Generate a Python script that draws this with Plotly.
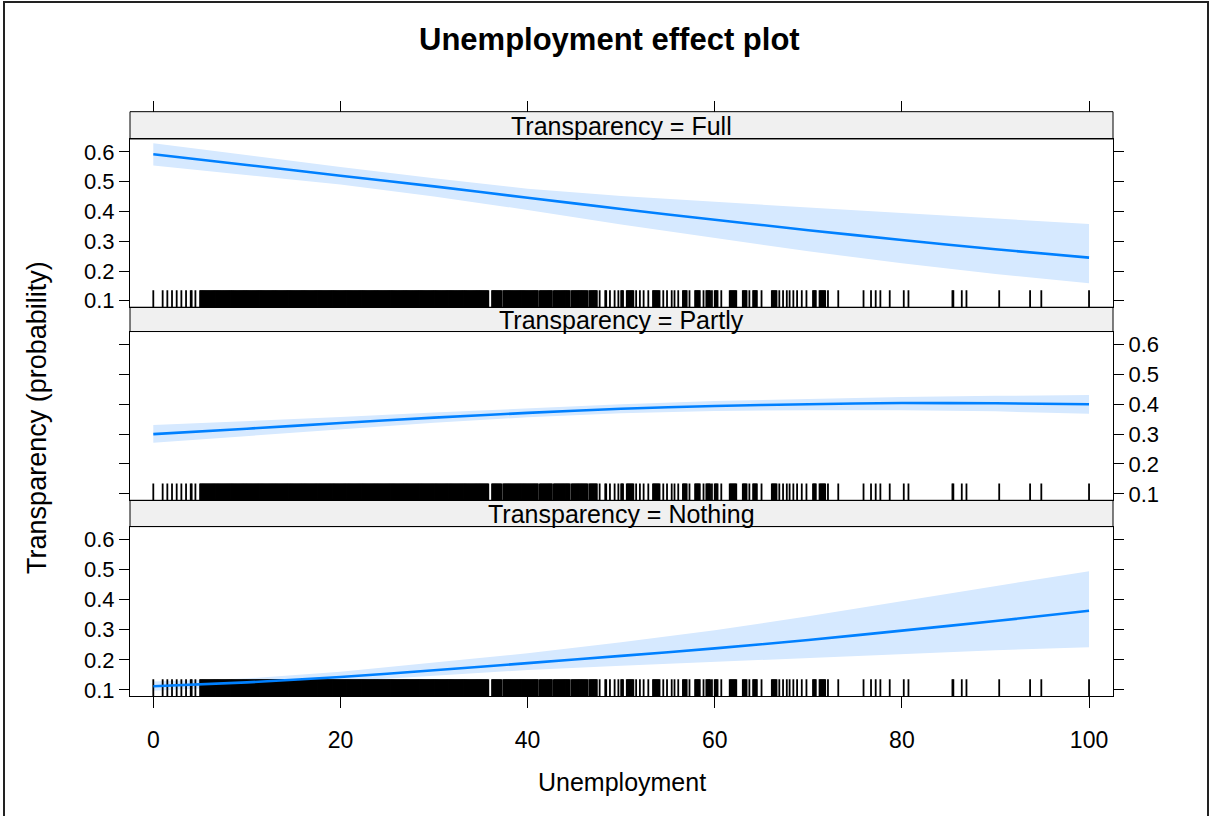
import plotly.graph_objects as go

# ---------------- data ----------------
unemployment = [0, 10, 20, 30, 40, 50, 60, 70, 80, 90, 100]

full_fit   = [0.592, 0.556, 0.520, 0.484, 0.446, 0.408, 0.372, 0.337, 0.304, 0.273, 0.245]
full_upper = [0.629, 0.588, 0.549, 0.511, 0.476, 0.452, 0.432, 0.413, 0.395, 0.376, 0.358]
full_lower = [0.554, 0.522, 0.490, 0.450, 0.405, 0.356, 0.310, 0.266, 0.226, 0.190, 0.159]

partly_fit   = [0.300, 0.318, 0.337, 0.355, 0.371, 0.385, 0.394, 0.400, 0.404, 0.403, 0.400]
partly_upper = [0.330, 0.343, 0.357, 0.372, 0.386, 0.400, 0.411, 0.418, 0.424, 0.428, 0.431]
partly_lower = [0.271, 0.293, 0.317, 0.338, 0.356, 0.370, 0.377, 0.380, 0.380, 0.376, 0.368]

nothing_fit   = [0.112, 0.125, 0.143, 0.165, 0.189, 0.213, 0.238, 0.266, 0.297, 0.329, 0.363]
nothing_upper = [0.128, 0.138, 0.160, 0.190, 0.222, 0.258, 0.298, 0.345, 0.395, 0.445, 0.495]
nothing_lower = [0.097, 0.112, 0.128, 0.147, 0.166, 0.180, 0.193, 0.207, 0.220, 0.232, 0.242]

panel_labels = ["Transparency = Full", "Transparency = Partly", "Transparency = Nothing"]

# rug of observed Unemployment values, read as runs (start, end) at 0.1 resolution
rug_start = [0.0, 1.0, 1.5, 2.0, 2.5, 3.0, 3.5, 4.0, 4.5, 5.0, 36.2, 37.4, 41.3, 42.8, 44.7,
             46.6, 47.7, 48.3, 48.8, 49.3, 49.7, 50.0, 50.6, 51.6, 52.0, 52.4, 52.9, 53.4,
             54.5, 54.9, 55.4, 55.7, 56.1, 56.6, 57.3, 57.9, 58.8, 59.1, 59.7, 60.0, 60.7,
             61.6, 63.0, 63.7, 64.1, 65.0, 66.1, 66.9, 67.3, 67.7, 68.0, 68.4, 68.8, 69.3,
             69.8, 70.5, 71.2, 72.1, 73.2, 75.9, 76.7, 77.2, 77.7, 78.7, 80.2, 80.7, 85.4,
             86.4, 86.9, 90.4, 93.7, 94.9, 100.0]
rug_end   = [0.0, 1.0, 1.5, 2.0, 2.5, 3.0, 3.5, 4.1, 4.5, 35.8, 37.2, 41.1, 42.6, 44.5, 46.4,
             47.4, 47.7, 48.4, 48.8, 49.3, 49.7, 50.2, 51.3, 51.6, 52.0, 52.4, 52.9, 54.1,
             54.5, 54.9, 55.4, 55.7, 56.1, 57.0, 57.3, 58.4, 58.8, 59.5, 59.7, 60.3, 60.7,
             62.3, 63.4, 63.7, 64.5, 65.0, 66.6, 66.9, 67.3, 67.7, 68.0, 68.4, 68.8, 69.3,
             69.8, 70.8, 71.8, 72.1, 73.2, 75.9, 76.7, 77.2, 77.7, 78.7, 80.2, 80.7, 85.5,
             86.4, 86.9, 90.4, 93.7, 94.9, 100.0]

x_ticks = [0, 20, 40, 60, 80, 100]
y_ticks = [0.1, 0.2, 0.3, 0.4, 0.5, 0.6]

# ---------------- geometry ----------------
W, H = 1212, 816
FONT = "Arial, Liberation Sans, sans-serif"
LINE_BLUE = "#0080FF"
BAND = "rgb(214,233,255)"

def py(p):
    return 1 - p / H

x_dom = [130 / W, 1113 / W]
x_rng = [-2.49, 102.56]
y_rng = [0.0784, 0.6432]
rug_top = 0.135

# (strip top, strip bottom/plot top, plot bottom) in pixels
panels_px = [(112.5, 140.0, 309.5), (309.5, 334.0, 504.0), (504.0, 530.5, 701.5)]

# expand rug runs
rug = []
for s, e in zip(rug_start, rug_end):
    n = int(round((e - s) * 10))
    for k in range(n + 1):
        rug.append(round(s + k / 10, 1))

rx, ry = [], []
for v in rug:
    rx += [v, v, None]
    ry += [y_rng[0], rug_top, None]

series = [
    (full_fit, full_upper, full_lower),
    (partly_fit, partly_upper, partly_lower),
    (nothing_fit, nothing_upper, nothing_lower),
]

# axes ids: top panel -> x3/y3, middle -> x2/y2, bottom -> x/y
ax_ids = ["3", "2", ""]

fig = go.Figure()
for (fit, up, lo), aid in zip(series, ax_ids):
    xa, ya = "x" + aid, "y" + aid
    fig.add_trace(go.Scatter(x=unemployment, y=lo, mode="lines", line=dict(width=0, color=BAND),
                             xaxis=xa, yaxis=ya, showlegend=False, hoverinfo="skip"))
    fig.add_trace(go.Scatter(x=unemployment, y=up, mode="lines", line=dict(width=0, color=BAND),
                             fill="tonexty", fillcolor=BAND,
                             xaxis=xa, yaxis=ya, showlegend=False, hoverinfo="skip"))
    fig.add_trace(go.Scatter(x=rx, y=ry, mode="lines", line=dict(width=1.8, color="black"),
                             xaxis=xa, yaxis=ya, showlegend=False, hoverinfo="skip"))
    fig.add_trace(go.Scatter(x=unemployment, y=fit, mode="lines",
                             line=dict(width=2.6, color=LINE_BLUE, shape="spline", smoothing=0.6),
                             xaxis=xa, yaxis=ya, showlegend=False))

# dummy trace for top tick axis
fig.add_trace(go.Scatter(x=[None], y=[None], xaxis="x4", yaxis="y3", showlegend=False))

tickfont = dict(family=FONT, size=23, color="black")
common_x = dict(domain=x_dom, range=x_rng, showgrid=False, zeroline=False, showline=True,
                mirror=True, linecolor="black", linewidth=1)
common_y = dict(range=y_rng, showgrid=False, zeroline=False, showline=True, linecolor="black",
                linewidth=1, ticks="outside", ticklen=10, tickcolor="black", tickwidth=1,
                tickvals=y_ticks, ticktext=[f"{v:.1f}" for v in y_ticks], mirror="ticks",
                tickfont=dict(family=FONT, size=22, color="black"))

lay = {}
lay["xaxis3"] = dict(common_x, anchor="y3", showticklabels=False, ticks="")
lay["yaxis3"] = dict(common_y, anchor="x3", domain=[py(panels_px[0][2]), py(panels_px[0][1])], side="left")
lay["xaxis2"] = dict(common_x, anchor="y2", showticklabels=False, ticks="")
lay["yaxis2"] = dict(common_y, anchor="x2", domain=[py(panels_px[1][2]), py(panels_px[1][1])], side="right")
lay["xaxis"] = dict(common_x, anchor="y", ticks="outside", ticklen=11, tickcolor="black",
                    tickvals=x_ticks, tickfont=tickfont, ticklabelstandoff=12)
lay["yaxis"] = dict(common_y, anchor="x", domain=[py(panels_px[2][2]), py(panels_px[2][1])], side="left")
lay["xaxis4"] = dict(overlaying="x3", anchor="free", position=py(panels_px[0][0]), side="top",
                     range=x_rng, showgrid=False, zeroline=False, showline=False, ticks="outside",
                     ticklen=11, tickcolor="black", tickvals=x_ticks, showticklabels=False)

shapes = []
annotations = []
for (st, sb, pb), label in zip(panels_px, panel_labels):
    shapes.append(dict(type="rect", xref="paper", yref="paper", x0=x_dom[0], x1=x_dom[1],
                       y0=py(sb), y1=py(st), fillcolor="#F0F0F0", line=dict(color="black", width=1),
                       layer="below"))
    annotations.append(dict(text=label, xref="paper", yref="paper", x=(x_dom[0] + x_dom[1]) / 2,
                            y=py((st + sb) / 2 + 1), showarrow=False, xanchor="center", yanchor="middle",
                            font=dict(family=FONT, size=25, color="black")))

annotations.append(dict(text="<b>Unemployment effect plot</b>", xref="paper", yref="paper",
                        x=609 / W, y=py(40), showarrow=False, xanchor="center", yanchor="middle",
                        font=dict(family=FONT, size=31, color="black")))
annotations.append(dict(text="Unemployment", xref="paper", yref="paper",
                        x=(x_dom[0] + x_dom[1]) / 2, y=py(788), showarrow=False,
                        xanchor="center", yanchor="middle",
                        font=dict(family=FONT, size=25, color="black")))
annotations.append(dict(text="Transparency (probability)", xref="paper", yref="paper",
                        x=37 / W, y=py(421), showarrow=False, textangle=-90,
                        xanchor="center", yanchor="middle",
                        font=dict(family=FONT, size=27, color="black")))

# outer frame of the screenshot
shapes.append(dict(type="rect", xref="paper", yref="paper", x0=4 / W, x1=1208 / W, y0=-0.05, y1=py(2),
                   line=dict(color="#222222", width=2), fillcolor="rgba(0,0,0,0)"))

fig.update_layout(width=W, height=H, margin=dict(l=0, r=0, t=0, b=0), autosize=False,
                  paper_bgcolor="white", plot_bgcolor="white", shapes=shapes,
                  annotations=annotations, showlegend=False, **lay)

fig.write_html("out.html", config={"displayModeBar": False},
               post_script="document.body.style.margin='0';document.body.style.padding='0';"
                           "document.body.style.overflow='hidden';"
                           "document.documentElement.style.overflow='hidden';")
